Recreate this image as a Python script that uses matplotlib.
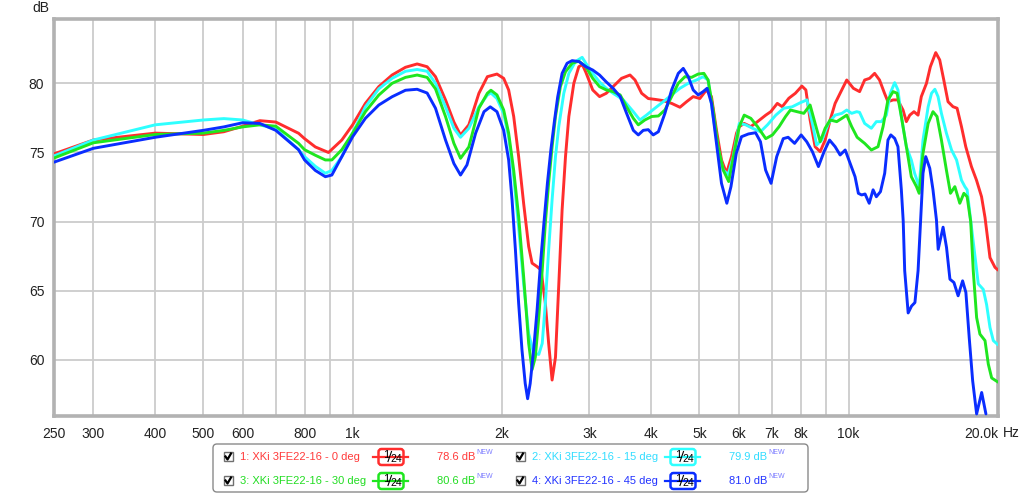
import matplotlib
matplotlib.use("Agg")
import matplotlib.pyplot as plt
from matplotlib.patches import FancyBboxPatch, Rectangle

plt.rcParams['font.family'] = ['Liberation Sans', 'DejaVu Sans']

# 주파수 응답 데이터
freq_0 = [250, 300, 400, 500, 550, 600, 650, 700, 778, 800, 841, 894, 951, 1000, 1061, 1129, 1201, 1278, 1349,
          1413, 1469, 1539, 1600, 1650, 1715, 1797, 1869, 1954, 2016, 2063, 2112, 2161, 2212, 2264, 2300,
          2354, 2398, 2446, 2484, 2524, 2564, 2604, 2644, 2686, 2728, 2792, 2857, 2905, 2952, 3048, 3146,
          3246, 3350, 3484, 3624, 3709, 3825, 3944, 4068, 4228, 4396, 4569, 4712, 4859, 5011, 5167, 5289,
          5414, 5541, 5672, 5805, 5942, 6018, 6157, 6349, 6550, 6805, 6965, 7180, 7347, 7574, 7807, 8048,
          8198, 8361, 8557, 8760, 8965, 9176, 9390, 9610, 9910, 10220, 10520, 10770, 11020, 11280, 11540,
          11810, 12000, 12290, 12560, 12870, 13070, 13280, 13540, 13800, 14010, 14350, 14610, 14980, 15260,
          15550, 15860, 16230, 16540, 16880, 17220, 17680, 18100, 18530, 18830, 19270, 19720, 20000]
db_0 = [74.9, 75.9, 76.4, 76.3, 76.5, 76.9, 77.3, 77.2, 76.39, 76.0, 75.4, 75.0, 75.9, 77.0, 78.55, 79.76, 80.6, 81.16, 81.4,
        81.2, 80.48, 78.8, 77.2, 76.26, 77.0, 79.28, 80.48, 80.67, 80.36, 79.52, 77.6, 74.7, 71.3, 68.2, 67.0,
        66.75, 66.5, 64.1, 61.2, 58.55, 60.2, 65.5, 70.84, 74.7, 77.6, 80.0, 81.2, 81.35, 80.8, 79.52, 79.04,
        79.28, 79.76, 80.36, 80.6, 80.24, 79.28, 78.9, 78.84, 78.75, 78.55, 78.27, 78.67, 79.04, 78.9, 79.52, 79.04,
        76.6, 74.46, 73.5, 74.7, 76.4, 76.87, 77.1, 76.87, 77.23, 77.7, 77.95, 78.55, 78.31, 78.92, 79.28, 79.8,
        79.52, 77.35, 75.42, 75.06, 75.9, 77.35, 78.55, 79.28, 80.24, 79.64, 79.4, 80.24, 80.36, 80.72, 80.24,
        79.28, 78.67, 78.8, 78.8, 78.07, 77.23, 77.7, 77.95, 77.7, 79.04, 80.0, 81.2, 82.22, 81.69,
        80.24, 78.67, 78.31, 78.2, 76.87, 75.42, 73.98, 73.0, 71.8, 70.3, 67.4, 66.7, 66.5]

freq_15 = [250, 300, 400, 500, 550, 600, 650, 700, 778, 800, 841, 881, 908, 951, 1000, 1061, 1129, 1201, 1278,
           1349, 1413, 1469, 1539, 1600, 1650, 1715, 1797, 1869, 1900, 1954, 2016, 2063, 2112, 2161, 2212,
           2264, 2316, 2373, 2411, 2446, 2484, 2524, 2564, 2604, 2665, 2728, 2813, 2902, 2952, 3048, 3146,
           3246, 3350, 3513, 3680, 3794, 3911, 4068, 4228, 4396, 4569, 4749, 4935, 5089, 5207, 5331, 5457,
           5586, 5717, 5851, 6018, 6200, 6400, 6640, 6860, 7130, 7400, 7690, 7990, 8240, 8450, 8620, 8830,
           9100, 9390, 9690, 9910, 10140, 10380, 10520, 10770, 11110, 11370, 11640, 11910, 12130, 12380, 12570,
           12770, 13070, 13375, 13580, 13870, 14120, 14460, 14690, 14920, 15140, 15380, 15740, 16120, 16500,
           16880, 17150, 17330, 17550, 18250, 18680, 18970, 19270, 19570, 20000]
db_15 = [74.75, 75.9, 77.0, 77.35, 77.45, 77.35, 77.0, 76.7, 75.2, 74.7, 74.0, 73.5, 73.7, 74.7, 76.4, 78.3, 79.6, 80.36, 80.87,
         81.0, 80.87, 80.0, 78.3, 76.75, 76.1, 76.75, 78.3, 79.15, 79.3, 78.9, 77.8, 76.1, 73.25, 69.6, 65.5,
         61.9, 60.5, 60.4, 61.2, 64.1, 67.95, 71.57, 74.7, 76.9, 79.28, 80.72, 81.57, 81.88, 81.45, 80.72, 80.1,
         79.64, 79.28, 78.8, 77.95, 77.35, 77.7, 78.2, 78.67, 79.16, 79.64, 80.0, 80.24, 80.48, 80.24, 77.6, 75.2,
         73.73, 73.4, 74.7, 77.1, 77.0, 76.75, 76.5, 77.0, 77.7, 78.2, 78.3, 78.6, 78.8, 77.1, 75.54, 75.9,
         77.1, 77.7, 77.83, 78.07, 77.83, 77.95, 77.9, 77.1, 76.75, 77.23, 77.23, 77.7, 79.28, 80.05, 79.52,
         77.6, 75.42, 74.46, 73.5, 72.53, 75.9, 78.3, 79.28, 79.57, 79.04, 77.83, 76.4, 75.18, 74.46,
         73.0, 72.53, 72.3, 70.6, 65.5, 65.1, 64.0, 62.35, 61.4, 61.1]

freq_30 = [250, 300, 400, 500, 550, 600, 650, 700, 778, 800, 841, 881, 908, 951, 1000, 1061, 1129, 1201, 1278,
           1349, 1413, 1469, 1539, 1600, 1650, 1715, 1797, 1869, 1900, 1954, 2016, 2063, 2112, 2161, 2212,
           2264, 2300, 2335, 2373, 2411, 2446, 2484, 2524, 2564, 2623, 2686, 2770, 2857, 2952, 3048, 3146,
           3246, 3350, 3462, 3567, 3680, 3766, 3882, 4006, 4134, 4261, 4396, 4534, 4676, 4822, 4972, 5106,
           5207, 5331, 5457, 5586, 5730, 5875, 6018, 6157, 6349, 6550, 6805, 7020, 7240, 7460, 7630, 7870,
           8120, 8361, 8557, 8760, 8965, 9176, 9460, 9690, 9910, 10140, 10400, 10770, 11110, 11460, 11730,
           12000, 12290, 12520, 12770, 13070, 13375, 13700, 13870, 14120, 14460, 14790, 15070, 15380, 15740,
           16040, 16370, 16750, 17070, 17330, 17620, 17830, 18110, 18390, 18830, 19120, 19420, 20000]
db_30 = [74.6, 75.7, 76.3, 76.4, 76.6, 76.85, 77.0, 76.9, 75.66, 75.2, 74.8, 74.46, 74.46, 75.2, 76.4, 77.95, 79.15, 80.0, 80.43,
         80.6, 80.43, 79.6, 77.6, 75.66, 74.58, 75.4, 78.2, 79.28, 79.5, 79.16, 78.07, 76.4, 73.7, 70.36, 66.0,
         61.2, 59.3, 60.2, 63.1, 66.5, 69.9, 72.8, 75.4, 77.6, 79.76, 80.84, 81.45, 81.6, 81.2, 80.36, 79.76,
         79.52, 79.4, 79.16, 78.3, 77.47, 77.0, 77.35, 77.6, 77.64, 78.07, 79.04, 80.0, 80.48, 80.43, 80.67, 80.72,
         80.24, 78.07, 75.4, 73.73, 72.9, 74.94, 76.87, 77.7, 77.47, 76.87, 76.0, 76.27, 76.87, 77.6, 78.07, 77.95,
         77.83, 78.43, 77.1, 75.78, 76.75, 77.35, 77.23, 77.47, 77.7, 76.87, 76.1, 75.66, 75.18, 75.42, 76.87,
         78.8, 79.4, 79.28, 77.6, 75.42, 73.25, 72.53, 72.05, 74.94, 77.1, 77.95, 77.6, 75.9, 73.73,
         72.05, 72.53, 71.33, 72.05, 71.8, 70.0, 66.45, 63.07, 61.87, 61.4, 59.7, 58.7, 58.4]

freq_45 = [250, 300, 400, 500, 550, 600, 650, 700, 778, 800, 841, 881, 908, 951, 1000, 1061, 1129, 1201, 1278,
           1349, 1413, 1469, 1539, 1600, 1650, 1700, 1770, 1840, 1894, 1954, 2016, 2063, 2096, 2129, 2161,
           2195, 2228, 2253, 2280, 2316, 2354, 2392, 2430, 2470, 2510, 2550, 2590, 2644, 2706, 2770, 2861,
           2952, 3048, 3146, 3246, 3350, 3462, 3567, 3680, 3766, 3853, 3944, 4036, 4134, 4261, 4396, 4534,
           4640, 4749, 4859, 4972, 5089, 5183, 5289, 5414, 5541, 5680, 5790, 5935, 6080, 6280, 6490, 6640,
           6800, 6975, 7160, 7380, 7550, 7780, 8020, 8230, 8450, 8690, 8920, 9150, 9390, 9610, 9840, 10070,
           10300, 10460, 10620, 10790, 11000, 11200, 11370, 11590, 11820, 12000, 12160, 12380, 12570, 12770,
           12880, 12970, 13180, 13390, 13600, 13800, 13950, 14120, 14300, 14570, 14790, 15030, 15150, 15500,
           15750, 16000, 16300, 16620, 16970, 17230, 17500, 17780, 18110, 18540, 18910]
db_45 = [74.3, 75.3, 76.1, 76.6, 76.85, 77.15, 77.1, 76.6, 75.2, 74.46, 73.7, 73.25, 73.37, 74.7, 76.14, 77.47, 78.43, 79.03, 79.5,
         79.57, 79.3, 78.2, 75.9, 74.2, 73.37, 74.1, 76.4, 77.95, 78.3, 77.95, 76.6, 74.46, 71.57, 67.95, 64.1,
         60.7, 58.3, 57.2, 58.3, 60.7, 63.6, 67.0, 69.9, 72.8, 75.2, 77.2, 79.0, 80.72, 81.45, 81.64, 81.57,
         81.2, 80.96, 80.6, 80.1, 79.64, 79.04, 77.83, 76.6, 76.27, 76.6, 76.65, 76.27, 76.5, 77.83, 79.52, 80.72,
         81.08, 80.48, 79.52, 79.16, 79.4, 79.64, 78.55, 75.66, 72.77, 71.33, 72.53, 74.94, 76.14, 76.34, 76.43, 75.78,
         73.73, 72.77, 74.7, 76.0, 76.1, 75.66, 76.27, 75.78, 75.06, 73.98, 75.06, 75.9, 75.42, 74.82, 75.18, 74.2,
         73.25, 72.05, 71.93, 72.0, 71.33, 72.3, 71.8, 72.17, 73.5, 75.9, 76.27, 76.02, 75.42, 72.3,
         70.06, 66.45, 63.4, 63.9, 64.15, 66.45, 69.8, 73.5, 74.7, 73.86, 72.3, 70.12, 68.0, 69.6,
         68.13, 65.84, 65.6, 64.64, 65.72, 64.88, 61.6, 58.5, 56.1, 57.65, 56.1]

series_freqs = [freq_0, freq_15, freq_30, freq_45]
series_db = [db_0, db_15, db_30, db_45]
series_names = ["1: XKi 3FE22-16 - 0 deg", "2: XKi 3FE22-16 - 15 deg",
                "3: XKi 3FE22-16 - 30 deg", "4: XKi 3FE22-16 - 45 deg"]
series_levels = ["78.6 dB", "79.9 dB", "80.6 dB", "81.0 dB"]
line_colors = ["#ff2d2d", "#2effff", "#1fe61f", "#0a2dff"]
text_colors = ["#ff3a3a", "#33ddff", "#22dd22", "#2233ff"]

x_ticks = [250, 300, 400, 500, 600, 700, 800, 900, 1000, 2000, 3000, 4000, 5000, 6000, 7000, 8000, 9000, 10000, 20000]
x_labels = ["250", "300", "400", "500", "600", "", "800", "", "1k", "2k", "3k", "4k", "5k", "6k", "7k", "8k", "", "10k", "20.0k"]
y_ticks = [60, 65, 70, 75, 80]

W, H = 1024, 495
fig = plt.figure(figsize=(W / 100, H / 100), dpi=100)
ax = fig.add_axes([54 / W, 1 - 416 / H, (998 - 54) / W, (416 - 19) / H])

for f, d, c in zip(series_freqs, series_db, line_colors):
    ax.plot(f, d, color=c, lw=2.1, solid_joinstyle='round', solid_capstyle='round', zorder=3)

ax.set_xscale('log')
ax.set_xlim(250, 20000)
ax.set_ylim(55.95, 84.65)
ax.set_xticks(x_ticks)
ax.set_xticklabels(x_labels)
ax.minorticks_off()
ax.set_yticks(y_ticks)
ax.set_yticklabels([str(v) for v in y_ticks])
ax.tick_params(length=0, labelsize=10, colors='#222222', pad=7)
ax.tick_params(axis='x', pad=8)
ax.xaxis.get_ticklabels()[-1].set_horizontalalignment('right')
ax.grid(True, color='#cccccc', lw=1.3, zorder=1)
for sp in ax.spines.values():
    sp.set_color('#b2b2b2')
    sp.set_linewidth(2.6)

fig.text(41 / W, 1 - 8 / H, "dB", fontsize=10, color='#222222', ha='center', va='center')
fig.text(1003 / W, 1 - 433 / H, "Hz", fontsize=10, color='#222222', ha='left', va='center')

# 범례 (픽셀 좌표로 그리기)
lg = fig.add_axes([0, 0, 1, 1], zorder=5)
lg.set_xlim(0, W)
lg.set_ylim(H, 0)
lg.axis('off')
lg.patch.set_alpha(0)

lg.add_patch(FancyBboxPatch((213, 444), 595, 48, boxstyle="round,pad=0,rounding_size=4",
                            fc='white', ec='#8a8a8a', lw=1.0))

rows = [457, 481]
cols = [0, 292]
for i, (name, lev, lc, tc) in enumerate(zip(series_names, series_levels, line_colors, text_colors)):
    y = rows[i // 2]
    dx = cols[i % 2]
    # 체크박스
    lg.add_patch(Rectangle((223.5 + dx, y - 5), 9, 9, fc='white', ec='#707070', lw=1.0))
    lg.plot([225.5 + dx, 227.5 + dx, 231 + dx], [y - 0.5, y + 2.5, y - 3.5], color='black', lw=1.6)
    # 이름
    lg.text(239.5 + dx, y, name, color=tc, fontsize=8, ha='left', va='center')
    # 스무딩 아이콘
    lg.plot([373 + dx, 408 + dx], [y, y], color=lc, lw=1.6)
    lg.add_patch(FancyBboxPatch((378.5 + dx, y - 8), 25, 16, boxstyle="round,pad=0,rounding_size=3",
                                fc='white', ec=lc, lw=1.8))
    lg.text(386 + dx, y - 1.5, "1", color='black', fontsize=8, ha='center', va='center')
    lg.plot([388 + dx, 391.5 + dx], [y + 4.5, y - 5.5], color='black', lw=0.8)
    lg.text(396.5 + dx, y + 2, "24", color='black', fontsize=7.5, ha='center', va='center')
    # 레벨
    lg.text(475 + dx, y, lev, color=tc, fontsize=8, ha='right', va='center')
    lg.text(476 + dx, y - 4, "NEW", color='#7a7aff', fontsize=5, ha='left', va='center')

fig.savefig("out.png", dpi=100)
